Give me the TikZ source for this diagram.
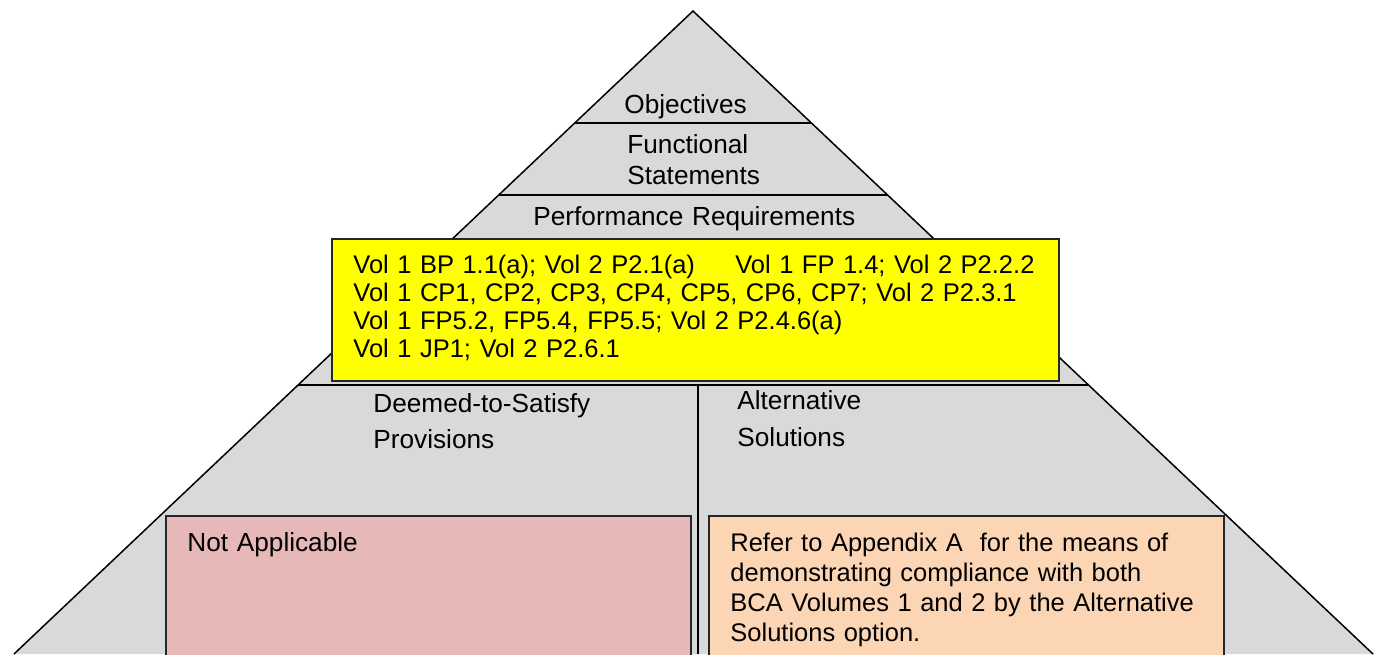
\documentclass[tikz,border=0pt]{standalone}
\usepackage{fontspec}
\setmainfont{Liberation Sans}
\usetikzlibrary{calc}

\definecolor{pyrgray}{HTML}{D9D9D9}
\definecolor{reqyellow}{HTML}{FFFF00}
\definecolor{dtspink}{HTML}{E6B8B7}
\definecolor{altorange}{HTML}{FCD5B4}

\tikzset{
  lbl/.style={anchor=base west, inner sep=0pt, text width=400pt, align=left,
              font=\fontsize{13.1}{#1}\selectfont},
  lbl/.default=15.5pt,
  boxtxt/.style={lbl, font=\fontsize{12.75}{#1}\selectfont},
  panel/.style={draw=black!85, line width=0.8pt, anchor=north west, inner sep=0pt},
  tier/.style={black, line width=0.9pt}
}

\begin{document}
\begin{tikzpicture}[x=0.5pt, y=-0.5pt]
    \useasboundingbox (0,0) rectangle (1383,654);
    \coordinate (top) at (693, 11);
    \coordinate (bl)  at ( 14,654);
    \coordinate (br)  at (1373,654);
    % pyramid
    \fill[pyrgray] (top) -- (bl) -- (br) -- cycle;
    \draw[black, line width=0.75pt] (bl) -- (top) -- (br);
    \draw[tier] ($(top)!0.1742!(bl)$) -- ($(top)!0.1742!(br)$);
    \draw[tier] ($(top)!0.2862!(bl)$) -- ($(top)!0.2862!(br)$);
    \draw[tier] ($(top)!0.5817!(bl)$) -- ($(top)!0.5817!(br)$);
    \coordinate (divtop) at (698,385);
    \coordinate (divbot) at (698,654);
    \draw[tier] (divtop) -- (divbot);
    % boxes
    \node[panel, fill=reqyellow, minimum width=363.5pt, minimum height=71pt]   (reqbox) at (331,238) {};
    \node[panel, fill=dtspink,   minimum width=262.5pt, minimum height=75pt]   (dtsbox) at (165,515) {};
    \node[panel, fill=altorange, minimum width=257.5pt, minimum height=75pt]   (altbox) at (708,515) {};
    % labels
    \node[lbl] (obj)  at (624,113) {Objectives};
    \node[lbl] (func) at (627,153) {Functional\\Statements};
    \node[lbl] (perf) at (533,225) {Performance Requirements};
    \node[boxtxt=14pt] (reqtxt) at (353,273) {\makebox[191pt][l]{Vol 1 BP 1.1(a); Vol 2 P2.1(a)}Vol 1 FP 1.4; Vol 2 P2.2.2\\
      Vol 1 CP1, CP2, CP3, CP4, CP5, CP6, CP7; Vol 2 P2.3.1\\
      Vol 1 FP5.2, FP5.4, FP5.5; Vol 2 P2.4.6(a)\\
      Vol 1 JP1; Vol 2 P2.6.1};
    \node[lbl=18pt] (dts) at (373,412) {Deemed-to-Satisfy\\Provisions};
    \node[lbl=18.5pt] (alt) at (737,409) {Alternative\\Solutions};
    \node[lbl] (na)   at (187,551) {Not Applicable};
    \node[boxtxt=15pt] (alttxt) at (730,551) {Refer to Appendix A\ \ for the means of\\
      demonstrating compliance with both\\
      BCA Volumes 1 and 2 by the Alternative\\
      Solutions option.};
\end{tikzpicture}
\end{document}
